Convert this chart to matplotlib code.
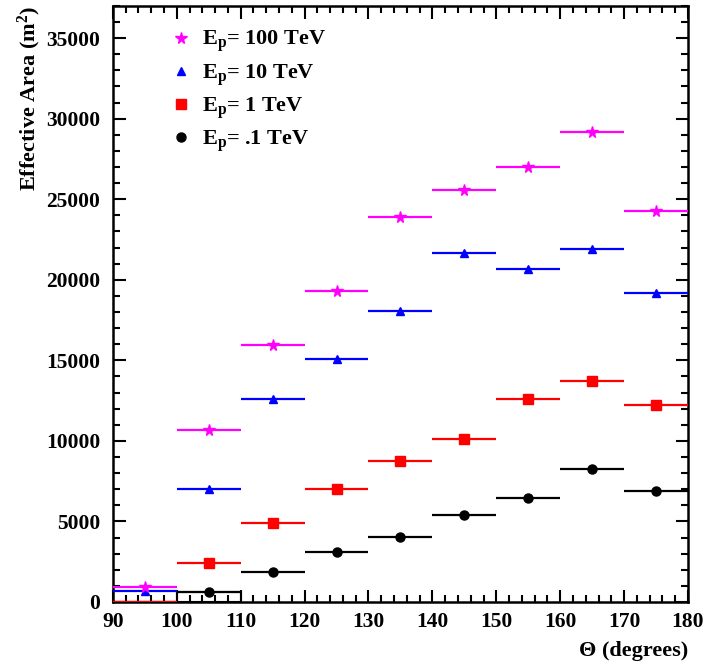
import numpy as np
import matplotlib
matplotlib.use("Agg")
import matplotlib.pyplot as plt
from matplotlib.lines import Line2D
from matplotlib.ticker import MultipleLocator

plt.rcParams['font.family'] = ['Liberation Serif', 'DejaVu Serif']
plt.rcParams['font.weight'] = 'bold'
plt.rcParams['mathtext.fontset'] = 'custom'
plt.rcParams['mathtext.rm'] = 'Liberation Serif:bold'
plt.rcParams['mathtext.bf'] = 'Liberation Serif:bold'
plt.rcParams['mathtext.it'] = 'Liberation Serif:bold:italic'

theta = [95, 105, 115, 125, 135, 145, 155, 165, 175]
bin_half = 5
e100 = [910, 10650, 15950, 19300, 23900, 25550, 27000, 29150, 24300]
e10 = [680, 7000, 12600, 15070, 18060, 21650, 20650, 21930, 19170]
e1 = [0, 2400, 4900, 7000, 8750, 10100, 12600, 13720, 12220]
e01 = [0, 640, 1880, 3120, 4040, 5380, 6480, 8240, 6880]

series = [
    (e01, 'black', 'o', 6.5, r'E$_\mathrm{p}$= .1 TeV'),
    (e1, '#ff0000', 's', 7.0, r'E$_\mathrm{p}$= 1 TeV'),
    (e10, '#0000ff', '^', 6.0, r'E$_\mathrm{p}$= 10 TeV'),
    (e100, '#ff00ff', '*', 8.5, r'E$_\mathrm{p}$= 100 TeV'),
]

fig = plt.figure(figsize=(7.10, 6.66), dpi=100)
ax = fig.add_axes([0.159, 0.0961, 0.81, 0.895])

# outline of the .1 TeV bin at 100-110
ax.bar(theta[1], e01[1], width=2 * bin_half, fill=False, edgecolor='black',
       linewidth=1.5, zorder=2)

for vals, col, mk, ms, lab in series:
    v = np.array(vals, dtype=float)
    ax.errorbar(theta, v, xerr=bin_half, fmt='none', ecolor=col,
                elinewidth=1.6, capsize=0, zorder=3)
    shown = np.where(v > 0, v, np.nan)
    ax.plot(theta, shown, linestyle='none', marker=mk, color=col,
            markersize=ms, zorder=4)

ax.set_xlim(90, 180)
ax.set_ylim(0, 37000)
ax.xaxis.set_major_locator(MultipleLocator(10))
ax.xaxis.set_minor_locator(MultipleLocator(2))
ax.yaxis.set_major_locator(MultipleLocator(5000))
ax.yaxis.set_minor_locator(MultipleLocator(1000))
ax.tick_params(which='both', direction='in', top=True, right=True,
               width=1.5, labelsize=15.5)
ax.tick_params(which='major', length=9)
ax.tick_params(axis='x', which='major', pad=7)
ax.tick_params(axis='y', which='major', pad=9)
ax.tick_params(which='minor', length=5)
for s in ax.spines.values():
    s.set_linewidth(1.8)

ax.set_xlabel('Θ (degrees)', fontsize=16, fontweight='bold')
ax.xaxis.set_label_coords(1.0, -0.065)
ax.xaxis.label.set_horizontalalignment('right')
ax.set_ylabel(r'Effective Area (m$^\mathrm{2}$)', fontsize=16, fontweight='bold')
ax.yaxis.set_label_coords(-0.145, 1.0)
ax.yaxis.label.set_verticalalignment('center')
ax.yaxis.label.set_horizontalalignment('right')

handles = [Line2D([], [], linestyle='none', marker=mk, color=col, markersize=ms)
           for vals, col, mk, ms, lab in series[::-1]]
labels = [lab for vals, col, mk, ms, lab in series[::-1]]
ax.legend(handles, labels, loc='upper left', bbox_to_anchor=(0.055, 0.995),
          frameon=False, fontsize=16, labelspacing=0.35, handletextpad=0.2,
          handlelength=1.5)

fig.savefig('out.png', dpi=100)
